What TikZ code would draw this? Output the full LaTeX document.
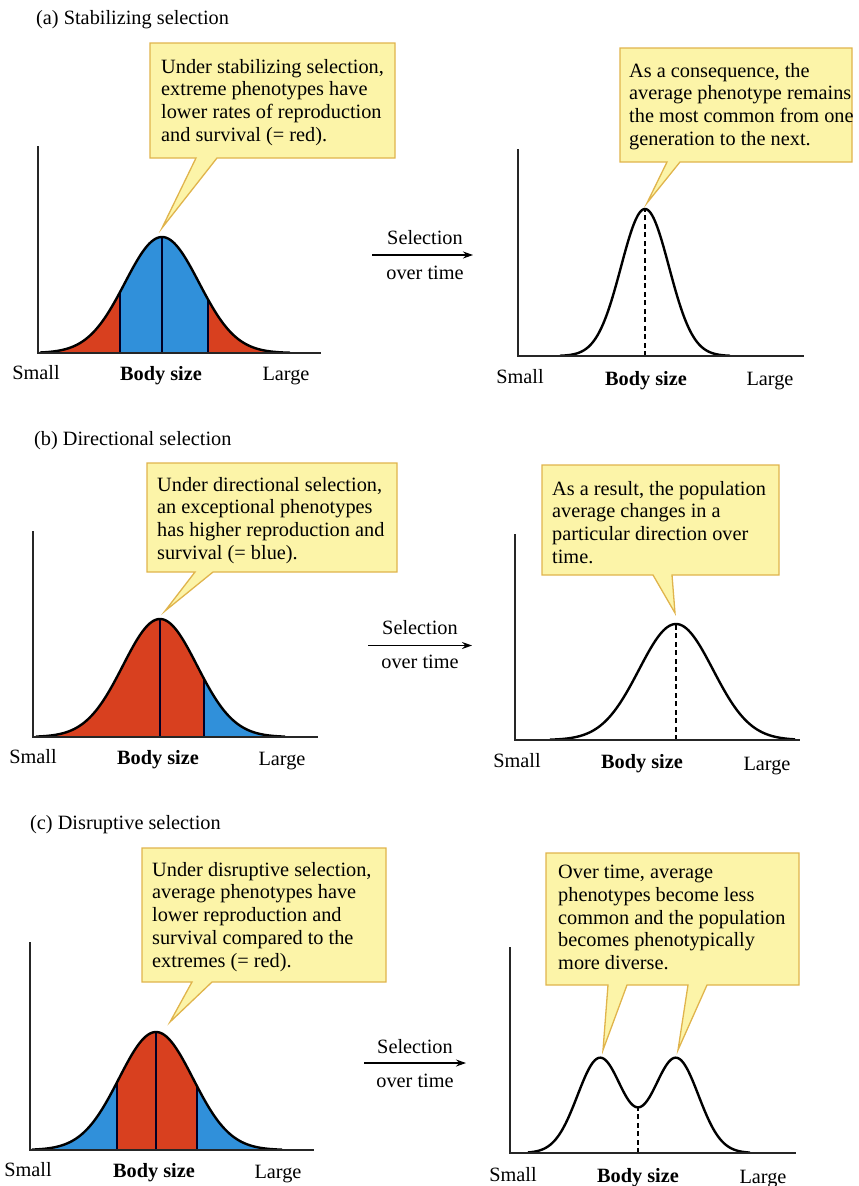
\documentclass[tikz,border=0pt]{standalone}
\usepackage{fontspec}
\setmainfont{Liberation Serif}
\usetikzlibrary{arrows.meta}
\definecolor{calloutfill}{HTML}{FCF4A8}
\definecolor{calloutedge}{HTML}{E0B44C}
\definecolor{selred}{HTML}{D8401F}
\definecolor{selblue}{HTML}{3090DA}
\begin{document}
\begin{tikzpicture}[x=1pt,y=-1pt,
  declare function={g(\x,\c,\s)=exp(-0.5*((\x-\c)/\s)^2);},
  txt/.style={font=\fontsize{20.3}{22.7}\selectfont, inner sep=0pt},
  note/.style={txt, align=left, anchor=north west},
  lbl/.style={txt, anchor=base},
  ttl/.style={txt, anchor=base west},
  callout/.style={fill=calloutfill, draw=calloutedge, line width=1.3pt, line join=miter},
  curve/.style={line width=2.4pt, line join=round},
  axis/.style={line width=1.2pt, draw=black!85, line cap=rect},
  divider/.style={line width=2pt, draw=black!85!blue},
  meanline/.style={line width=2.6pt, dash pattern=on 5pt off 3.5pt},
  selarrow/.style={line width=1.1pt, -{Stealth[length=10pt,width=7pt]}},
]
\useasboundingbox (0,0) rectangle (859,1186);

% ================= (a) Stabilizing =================
\node[ttl] (ta) at (36,24) {(a) Stabilizing selection};

% left callout
\path[callout] (150,43) -- (395,43) -- (395,158) -- (217,158) -- (162,228) -- (196,158) -- (150,158) -- cycle;
\node[note] (na) at (161,59) {Under stabilizing selection,\\extreme phenotypes have\\lower rates of reproduction\\and survival (= red).};

% left graph
\fill[selred] plot[domain=40:120,samples=60] ({\x},{353-116*g(\x,162,37)}) -- (120,353) -- (40,353) -- cycle;
\fill[selblue] plot[domain=120:208,samples=60] ({\x},{353-116*g(\x,162,37)}) -- (208,353) -- (120,353) -- cycle;
\fill[selred] plot[domain=208:290,samples=60] ({\x},{353-116*g(\x,162,37)}) -- (290,353) -- (208,353) -- cycle;
\draw[divider] (120,353) -- (120,{353-116*g(120,162,37)});
\draw[divider] (162,353) -- (162,237);
\draw[divider] (208,353) -- (208,{353-116*g(208,162,37)});
\draw[curve] plot[domain=40:290,samples=150] ({\x},{353-116*g(\x,162,37)});
\coordinate (aLy) at (38,147);
\coordinate (aLx) at (320,353);
\draw[axis] (aLy) |- (aLx);
\node[lbl] (aLs) at (36,379) {Small};
\node[lbl] (aLb) at (161,380) {\bfseries Body size};
\node[lbl] (aLl) at (286,380) {Large};

% arrow
\node[lbl] (aSel) at (425,244) {Selection};
\node[lbl] (aOver) at (425,279) {over time};
\coordinate (aA1) at (372,255);
\coordinate (aA2) at (473,255);
\draw[selarrow] (aA1) -- (aA2);

% right callout
\path[callout] (620,48) -- (852,48) -- (852,162) -- (680,162) -- (647,203) -- (667,162) -- (620,162) -- cycle;
\node[note] (nb) at (629,63) {As a consequence, the\\average phenotype remains\\the most common from one\\generation to the next.};

% right graph
\draw[meanline] (645,356) -- (645,209);
\draw[curve] plot[domain=560:730,samples=150] ({\x},{356-147*g(\x,645,24)});
\coordinate (aRy) at (518,150);
\coordinate (aRx) at (803,356);
\draw[axis] (aRy) |- (aRx);
\node[lbl] (aRs) at (520,383) {Small};
\node[lbl] (aRb) at (646,385) {\bfseries Body size};
\node[lbl] (aRl) at (770,385) {Large};

% ================= (b) Directional =================
\node[ttl] (tb) at (34,445) {(b) Directional selection};

\path[callout] (147,463) -- (397,463) -- (397,572) -- (213,572) -- (165,611) -- (195,572) -- (147,572) -- cycle;
\node[note] (nc) at (157,477) {Under directional selection,\\an exceptional phenotypes\\has higher reproduction and\\survival (= blue).};

\fill[selred] plot[domain=36:204,samples=100] ({\x},{737-118*g(\x,160,37)}) -- (204,737) -- (36,737) -- cycle;
\fill[selblue] plot[domain=204:285,samples=60] ({\x},{737-118*g(\x,160,37)}) -- (285,737) -- (204,737) -- cycle;
\draw[divider] (160,737) -- (160,619);
\draw[divider] (204,737) -- (204,{737-118*g(204,160,37)});
\draw[curve] plot[domain=36:285,samples=150] ({\x},{737-118*g(\x,160,37)});
\coordinate (bLy) at (33,532);
\coordinate (bLx) at (317,737);
\draw[axis] (bLy) |- (bLx);
\node[lbl] (bLs) at (33,763) {Small};
\node[lbl] (bLb) at (158,764) {\bfseries Body size};
\node[lbl] (bLl) at (282,765) {Large};

\node[lbl] (bSel) at (420,634) {Selection};
\node[lbl] (bOver) at (420,668) {over time};
\coordinate (bA1) at (368,645.5);
\coordinate (bA2) at (472,645.5);
\draw[selarrow] (bA1) -- (bA2);

\path[callout] (542,465) -- (779,465) -- (779,575) -- (672,575) -- (675,613) -- (653,575) -- (542,575) -- cycle;
\node[note] (nd) at (552,481) {As a result, the population\\average changes in a\\particular direction over\\time.};

\draw[meanline] (676,740) -- (676,624);
\draw[curve] plot[domain=550:795,samples=150] ({\x},{740-116*g(\x,676,37)});
\coordinate (bRy) at (515,535);
\coordinate (bRx) at (799,740);
\draw[axis] (bRy) |- (bRx);
\node[lbl] (bRs) at (517,767) {Small};
\node[lbl] (bRb) at (642,768) {\bfseries Body size};
\node[lbl] (bRl) at (767,770) {Large};

% ================= (c) Disruptive =================
\node[ttl] (tc) at (30,829) {(c) Disruptive selection};

\path[callout] (142,848) -- (386,848) -- (386,982) -- (212,982) -- (170,1022) -- (192,982) -- (142,982) -- cycle;
\node[note] (ne) at (152,862) {Under disruptive selection,\\average phenotypes have\\lower reproduction and\\survival compared to the\\extremes (= red).};

\fill[selblue] plot[domain=32:117,samples=60] ({\x},{1150-118*g(\x,156,37)}) -- (117,1150) -- (32,1150) -- cycle;
\fill[selred] plot[domain=117:197,samples=60] ({\x},{1150-118*g(\x,156,37)}) -- (197,1150) -- (117,1150) -- cycle;
\fill[selblue] plot[domain=197:282,samples=60] ({\x},{1150-118*g(\x,156,37)}) -- (282,1150) -- (197,1150) -- cycle;
\draw[divider] (117,1150) -- (117,{1150-118*g(117,156,37)});
\draw[divider] (156,1150) -- (156,1032);
\draw[divider] (197,1150) -- (197,{1150-118*g(197,156,37)});
\draw[curve] plot[domain=32:282,samples=150] ({\x},{1150-118*g(\x,156,37)});
\coordinate (cLy) at (30,943);
\coordinate (cLx) at (313,1150);
\draw[axis] (cLy) |- (cLx);
\node[lbl] (cLs) at (28,1176) {Small};
\node[lbl] (cLb) at (154,1177) {\bfseries Body size};
\node[lbl] (cLl) at (278,1178) {Large};

\node[lbl] (cSel) at (415,1053) {Selection};
\node[lbl] (cOver) at (415,1087) {over time};
\coordinate (cA1) at (364,1063);
\coordinate (cA2) at (466,1063);
\draw[selarrow] (cA1) -- (cA2);

\path[callout] (546,853) -- (799,853) -- (799,985) -- (707,985) -- (678,1050) -- (688,985)
  -- (627,985) -- (603,1050) -- (608,985) -- (546,985) -- cycle;
\node[note] (nf) at (558,865) {Over time, average\\phenotypes become less\\common and the population\\becomes phenotypically\\more diverse.};

\draw[meanline] (638,1153) -- (638,{1153-95*(g(638,600,22.5)+g(638,676,22.5))});
\draw[curve] plot[domain=528:750,samples=200] ({\x},{1153-95*(g(\x,600,22.5)+g(\x,676,22.5))});
\coordinate (cRy) at (510,948);
\coordinate (cRx) at (795,1153);
\draw[axis] (cRy) |- (cRx);
\node[lbl] (cRs) at (513,1181) {Small};
\node[lbl] (cRb) at (638,1182) {\bfseries Body size};
\node[lbl] (cRl) at (763,1183) {Large};
\end{tikzpicture}
\end{document}
